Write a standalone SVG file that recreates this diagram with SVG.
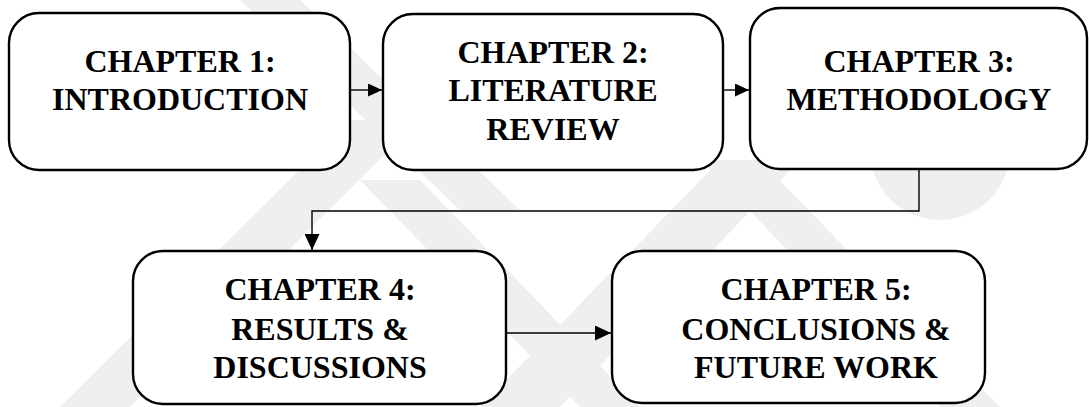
<svg xmlns="http://www.w3.org/2000/svg" width="1089" height="407" viewBox="0 0 1089 407">
  <style>
    .box { fill: #ffffff; stroke: #000000; stroke-width: 2.4; }
    .lbl { font-family: "Liberation Serif", "Times New Roman", serif; font-weight: bold; font-size: 32px; fill: #000000; text-anchor: middle; }
    .conn { fill: none; stroke: #000000; stroke-width: 1.4; }
    .wm { fill: #efefef; }
  </style>
  <defs>
    <marker id="arrow" viewBox="0 0 10 10" refX="10" refY="5" markerWidth="14" markerHeight="13" markerUnits="userSpaceOnUse" orient="auto" preserveAspectRatio="none">
      <path d="M0,0 L10,5 L0,10 z" fill="#000000"/>
    </marker>
    <marker id="arrowBig" viewBox="0 0 10 10" refX="10" refY="5" markerWidth="16" markerHeight="15" markerUnits="userSpaceOnUse" orient="auto" preserveAspectRatio="none">
      <path d="M0,0 L10,5 L0,10 z" fill="#000000"/>
    </marker>
  </defs>
  <rect width="1089" height="407" fill="#ffffff"/>
  <g id="watermark">
    <polygon class="wm" points="60,407 130,407 420,120 350,120"/>
    <polygon class="wm" points="480,407 560,407 800,160 720,160"/>
    <polygon class="wm" points="360,180 420,180 640,407 580,407"/>
    <polygon class="wm" points="700,160 760,160 1000,407 940,407"/>
    <polygon class="wm" points="240,0 300,0 520,210 460,210"/>
    <path class="wm" d="M870,150 A70,70 0 0 0 1010,150 Z"/>
  </g>
  <g id="connectors">
    <line class="conn" x1="350" y1="90" x2="382" y2="90" marker-end="url(#arrow)"/>
    <line class="conn" x1="723" y1="90" x2="749" y2="90" marker-end="url(#arrow)"/>
    <polyline class="conn" points="919,169 919,211 312,211 312,250" marker-end="url(#arrowBig)"/>
    <line class="conn" x1="506" y1="333" x2="611" y2="333" marker-end="url(#arrowBig)"/>
  </g>
  <g id="node1">
    <rect class="box" x="9" y="13" width="341" height="157" rx="30" ry="30"/>
    <text class="lbl" x="180" y="72">CHAPTER 1:</text>
    <text class="lbl" x="180" y="110">INTRODUCTION</text>
  </g>
  <g id="node2">
    <rect class="box" x="383" y="14" width="340" height="156" rx="30" ry="30"/>
    <text class="lbl" x="553" y="63">CHAPTER 2:</text>
    <text class="lbl" x="553" y="101">LITERATURE</text>
    <text class="lbl" x="553" y="140">REVIEW</text>
  </g>
  <g id="node3">
    <rect class="box" x="750" y="8" width="337" height="161" rx="30" ry="30"/>
    <text class="lbl" x="919" y="72">CHAPTER 3:</text>
    <text class="lbl" x="919" y="110">METHODOLOGY</text>
  </g>
  <g id="node4">
    <rect class="box" x="133" y="251" width="373" height="153" rx="30" ry="30"/>
    <text class="lbl" x="320" y="300">CHAPTER 4:</text>
    <text class="lbl" x="320" y="340">RESULTS &amp;</text>
    <text class="lbl" x="320" y="378">DISCUSSIONS</text>
  </g>
  <g id="node5">
    <rect class="box" x="612" y="251" width="373" height="152" rx="30" ry="30"/>
    <text class="lbl" x="816" y="300">CHAPTER 5:</text>
    <text class="lbl" x="816" y="340">CONCLUSIONS &amp;</text>
    <text class="lbl" x="816" y="378">FUTURE WORK</text>
  </g>
</svg>
